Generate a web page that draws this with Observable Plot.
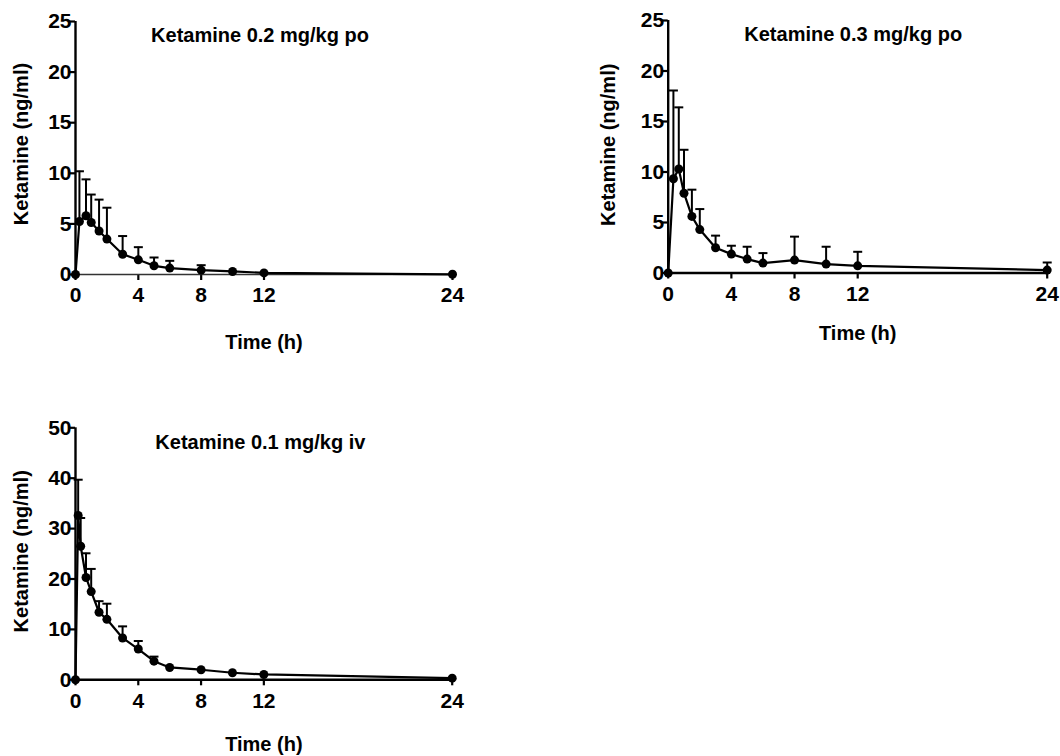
<!DOCTYPE html>
<html><head><meta charset="utf-8">
<script src="https://cdn.jsdelivr.net/npm/d3@7"></script>
<script src="https://cdn.jsdelivr.net/npm/@observablehq/plot@0.6"></script>
<style>
body{margin:0;background:#fff}
#wrap{position:relative;width:1060px;height:756px;overflow:hidden}
#wrap svg{position:absolute}
</style>
</head><body><div id="wrap"></div>
<script>
// ---- data ----
const xTicks = [0, 4, 8, 12, 24];
const yTicksPo = [0, 5, 10, 15, 20, 25];
const yTicksIv = [0, 10, 20, 30, 40, 50];
const titles = ["Ketamine 0.2 mg/kg po", "Ketamine 0.3 mg/kg po", "Ketamine 0.1 mg/kg iv"];
const xLabel = "Time (h)";
const yLabel = "Ketamine (ng/ml)";

// 0.2 mg/kg po
const time1  = [0, 0.25, 0.67, 1, 1.5, 2, 3, 4, 5, 6, 8, 10, 12, 24];
const mean1  = [0, 5.24, 5.8, 5.14, 4.3, 3.5, 2.0, 1.45, 0.86, 0.63, 0.43, 0.3, 0.16, 0.02];
const upper1 = [null, 10.2, 9.4, 7.9, 7.4, 6.6, 3.8, 2.7, 1.68, 1.35, 0.92, null, null, null];

// 0.3 mg/kg po
const time2  = [0, 0.33, 0.67, 1, 1.5, 2, 3, 4, 5, 6, 8, 10, 12, 24];
const mean2  = [0, 9.33, 10.3, 7.9, 5.6, 4.3, 2.5, 1.87, 1.38, 0.98, 1.28, 0.88, 0.71, 0.29];
const upper2 = [null, 18.07, 16.4, 12.2, 8.25, 6.33, 3.7, 2.7, 2.6, 1.97, 3.6, 2.6, 2.1, 1.04];

// 0.1 mg/kg iv
const time3  = [0, 0.17, 0.33, 0.67, 1, 1.5, 2, 3, 4, 5, 6, 8, 10, 12, 24];
const mean3  = [0, 32.6, 26.5, 20.3, 17.5, 13.4, 12.0, 8.3, 6.1, 3.7, 2.45, 2.0, 1.4, 1.06, 0.33];
const upper3 = [null, 39.7, 32.1, 25.1, 22.0, 15.6, 15.1, 10.6, 7.7, 4.6, null, null, null, null, null];

// ---- layout ----
const capSymbol = {
  draw(ctx, size) {
    const w = Math.sqrt(size / Math.PI);
    ctx.moveTo(-w, 0);
    ctx.lineTo(w, 0);
  }
};

function panel(cfg) {
  const data = cfg.times.map((t, i) => ({t, v: cfg.means[i], e: cfg.uppers[i]}));
  const err = data.filter(d => d.e != null);
  const chart = Plot.plot({
    width: cfg.width,
    height: cfg.height,
    marginLeft: cfg.ml, marginTop: cfg.mt, marginRight: cfg.mr, marginBottom: cfg.mb,
    style: {fontFamily: "'Liberation Sans', Arial, sans-serif", fontSize: "21px", fontWeight: "bold", color: "black", background: "transparent", overflow: "visible"},
    x: {domain: [0, 24]},
    y: {domain: [0, cfg.yMax]},
    marks: [
      Plot.axisY({ticks: cfg.yTicks, tickSize: 6, tickPadding: -2, strokeWidth: 2.2, label: null, fontSize: 21}),
      Plot.axisX({ticks: xTicks, tickSize: 6, tickPadding: 7, strokeWidth: 2.2, label: null, fontSize: 21}),
      Plot.ruleX([0], {stroke: "black", strokeWidth: 2.4}),
      Plot.ruleY([0], {stroke: cfg.xAxisColor, strokeWidth: cfg.xAxisWidth}),
      Plot.ruleX(err, {x: "t", y1: "v", y2: "e", stroke: "black", strokeWidth: 2}),
      Plot.dot(err, {x: "t", y: "e", symbol: capSymbol, r: 4.5, stroke: "black", strokeWidth: 2, fill: "none"}),
      Plot.line(data, {x: "t", y: "v", stroke: "black", strokeWidth: 2.2}),
      Plot.dot(data, {x: "t", y: "v", r: 4.5, fill: "black", stroke: "none"}),
      Plot.text([cfg.title], {frameAnchor: "top", dx: cfg.tdx, dy: cfg.tdy, lineAnchor: "middle", fontSize: 20, fontWeight: "bold", fill: "black"}),
      Plot.text([xLabel], {frameAnchor: "bottom", dy: cfg.xdy, lineAnchor: "middle", fontSize: 20, fontWeight: "bold", fill: "black"}),
      Plot.text([yLabel], {frameAnchor: "left", dx: cfg.ydx, dy: cfg.ydy, rotate: -90, textAnchor: "middle", lineAnchor: "middle", fontSize: 20, fontWeight: "bold", fill: "black"})
    ]
  });
  chart.style.left = cfg.left + "px";
  chart.style.top = cfg.top + "px";
  document.getElementById("wrap").appendChild(chart);
}

panel({left: 0, top: 0, width: 480, height: 360, ml: 75, mt: 21, mr: 28, mb: 86,
  times: time1, means: mean1, uppers: upper1, yMax: 25, yTicks: yTicksPo, title: titles[0],
  tdx: -4, tdy: 14, xdy: 68, ydx: -54, ydy: -4, xAxisColor: "#333", xAxisWidth: 1.4});
panel({left: 590, top: 0, width: 470, height: 360, ml: 77.7, mt: 20, mr: 13.3, mb: 87.5,
  times: time2, means: mean2, uppers: upper2, yMax: 25, yTicks: yTicksPo, title: titles[1],
  tdx: -4.5, tdy: 14, xdy: 61, ydx: -60, ydy: -2, xAxisColor: "black", xAxisWidth: 2.4});
panel({left: 0, top: 410, width: 480, height: 346, ml: 75, mt: 17.3, mr: 28.3, mb: 76.7,
  times: time3, means: mean3, uppers: upper3, yMax: 50, yTicks: yTicksIv, title: titles[2],
  tdx: -3.5, tdy: 15, xdy: 65, ydx: -54, ydy: -2.5, xAxisColor: "black", xAxisWidth: 2.4});
</script>
</body></html>
